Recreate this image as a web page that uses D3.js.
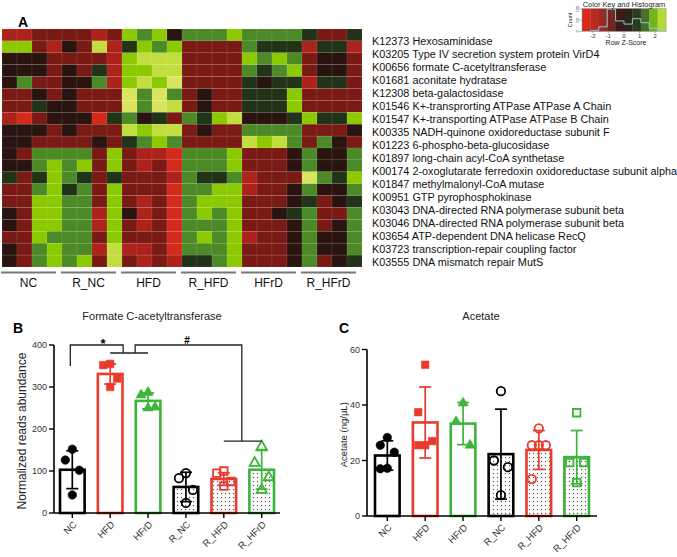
<!DOCTYPE html>
<html><head><meta charset="utf-8">
<script src="https://cdn.jsdelivr.net/npm/d3@7"></script>
<style>body{margin:0;background:#fff}svg{display:block;font-family:"Liberation Sans",Arial,sans-serif}</style>
</head><body>
<svg id="c" width="677" height="557"></svg>
<script>
// ---------------- DATA ----------------
const heatGroups = ["NC","R_NC","HFD","R_HFD","HFrD","R_HFrD"];
const samplesPerGroup = 4;
const geneLabels = [
 "K12373 Hexosaminidase",
 "K03205 Type IV secretion system protein VirD4",
 "K00656 formate C-acetyltransferase",
 "K01681 aconitate hydratase",
 "K12308 beta-galactosidase",
 "K01546 K+-transprorting ATPase ATPase A Chain",
 "K01547 K+-transporting ATPase ATPase B Chain",
 "K00335 NADH-quinone oxidoreductase subunit F",
 "K01223 6-phospho-beta-glucosidase",
 "K01897 long-chain acyl-CoA synthetase",
 "K00174 2-oxoglutarate ferredoxin oxidoreductase subunit alpha",
 "K01847 methylmalonyl-CoA mutase",
 "K00951 GTP pyrophosphokinase",
 "K03043 DNA-directed RNA polymerase subunit beta",
 "K03046 DNA-directed RNA polymerase subunit beta",
 "K03654 ATP-dependent DNA helicase RecQ",
 "K03723 transcription-repair coupling factor",
 "K03555 DNA mismatch repair MutS"
];
// row z-scores (20 rows x 24 samples)
const zScores = [
 [-1.7,-1.7,-1.1,-1.1,-1.1,-1.1,-1.7,-1.1, 1.4,0.9,1.4,-0.4, 0.9,0.9,0.9,1.4, 0.9,0.9,0.9,0.9, 0.3,-1.1,-1.1,0.3],
 [1.4,1.4,-1.1,-1.7,-0.4,-1.1,1.8,-1.7, 0.3,1.4,0.9,1.4, -1.1,-1.1,-1.1,-1.1, 0.9,0.3,0.3,0.3, -1.7,0.3,0.3,-1.7],
 [-0.4,-0.4,-0.4,-1.1,-1.1,-1.1,-1.1,-1.7, 1.4,1.8,1.8,1.8, -1.1,-1.1,-1.1,-1.1, 1.4,0.9,1.4,0.9, -1.1,-0.4,-0.4,-1.1],
 [-0.4,-0.4,-0.4,-1.1,-0.4,-1.1,0.3,-1.7, 1.4,1.4,1.8,1.8, -1.1,-1.1,-1.1,-1.1, 0.9,0.3,0.9,1.4, -1.1,-0.4,-0.4,-1.1],
 [-0.4,0.9,-1.1,-1.1,-0.4,-0.4,0.9,-1.7, 1.4,1.8,1.4,2.3, -1.1,-1.1,-1.1,-1.1, 0.3,-0.4,0.3,0.3, -1.7,0.3,0.3,-1.1],
 [-1.1,-1.1,-0.4,-1.1,-0.4,-1.1,-1.1,-1.1, 2.3,0.9,2.3,0.9, -1.1,-0.4,-1.1,-1.1, 0.3,0.3,0.3,1.4, -1.1,-1.1,-1.1,-1.1],
 [-1.1,-1.1,0.3,-0.4,-0.4,-1.1,-1.1,-1.1, 2.3,0.9,2.3,1.8, -1.1,-0.4,-1.1,-1.1, 0.3,0.3,0.3,1.4, -1.1,-1.1,-1.1,-1.1],
 [-1.7,-2.2,-1.1,-0.4,-0.4,-0.4,-2.2,0.3, 0.9,-0.4,0.3,-1.1, 0.9,0.3,1.4,1.8, -0.4,-0.4,-0.4,0.3, 1.4,0.3,0.3,1.4],
 [-0.4,-0.4,-0.4,-1.1,-0.4,-1.1,-1.1,-1.1, 1.8,1.4,1.8,1.8, -1.1,-0.4,-1.1,-1.1, 0.9,0.9,0.9,0.9, -1.1,-1.1,-1.1,-0.4],
 [-0.4,-0.4,-1.1,-1.1,-1.1,-1.1,-0.4,-1.1, 0.3,0.9,1.4,0.9, -1.1,-1.1,-1.1,-1.1, 1.8,1.4,1.8,0.9, -1.1,0.9,-0.4,-1.1],
 [-0.4,-1.1,0.9,0.9,0.9,0.9,-1.1,1.4, -1.1,-1.7,-1.7,-2.2, 0.9,0.9,0.9,1.4, -1.1,-1.1,-1.1,-0.4, 0.9,-0.4,-0.4,0.9],
 [-0.4,-0.4,0.9,1.4,0.9,1.4,-1.1,1.4, -1.1,-1.7,-1.1,-2.2, 0.9,0.9,0.9,1.4, -1.1,-1.1,-1.1,-0.4, 0.9,-0.4,-0.4,0.9],
 [0.3,-1.1,0.3,1.4,0.9,0.3,-1.1,0.3, -1.1,-1.1,-1.1,-1.7, 0.9,0.3,0.3,0.9, -1.7,-1.1,-1.1,-1.1, 2.3,0.9,0.3,1.4],
 [-1.1,-1.1,0.9,1.4,0.3,0.9,-1.1,1.4, -1.1,-1.1,-1.1,-2.2, 0.9,0.9,1.4,1.4, -1.7,-1.1,-1.1,-0.4, 0.9,-0.4,-0.4,0.9],
 [-1.1,-1.1,1.4,1.4,0.9,0.9,-1.1,1.4, -1.1,-1.7,-1.1,-2.2, 0.9,1.4,1.4,1.4, -1.1,-1.1,-1.1,-0.4, 0.3,-1.1,-0.4,0.3],
 [-0.4,-1.1,1.4,1.4,0.9,0.9,-1.7,1.4, -0.4,-1.7,-1.1,-2.2, 0.9,1.4,0.9,1.4, -1.1,-1.1,-0.4,0.3, 0.9,-1.1,-1.1,0.9],
 [-0.4,-1.1,1.4,1.4,0.9,0.9,-1.7,1.4, -1.1,-1.7,-1.1,-2.2, 0.9,0.9,0.9,1.4, -1.1,-1.1,-1.1,-0.4, 0.9,-1.1,-0.4,0.9],
 [-1.1,-1.1,1.4,0.9,0.9,0.9,-1.1,1.4, -1.1,-1.1,-1.1,-2.2, 0.9,1.4,0.9,1.4, -1.7,-1.1,-1.1,-0.4, 0.9,-0.4,-0.4,0.9],
 [-0.4,-1.1,0.9,1.4,0.9,0.9,-1.7,1.8, -1.7,-1.7,-1.1,-2.2, 0.9,0.9,0.9,1.4, -1.1,-1.1,-1.1,-0.4, 0.9,-0.4,-0.4,0.9],
 [-0.4,-1.1,0.9,1.4,0.9,1.4,-1.1,1.8, -1.1,-1.7,-1.1,-1.7, 0.3,0.3,0.9,1.4, -1.1,-1.1,-1.1,-0.4, 0.9,-1.1,-0.4,0.3]
];
const zBreaks = [-2,-1.4,-0.8,0,0.6,1.2,1.6,2.05];
const zColors = ["#d42a1c","#ae221c","#7a1a14","#2a1410","#223418","#4c8a28","#8dc900","#c2dd3e","#dbe45e"];
const keyColors = ["#d8291c","#bb2a22","#992a26","#742622","#3c1a16","#2c2418","#2e3a20","#4a6e2c","#72b41a","#b8d838"];
const histCounts = [0,0.05,0.21,1.0,0.47,0.33,0.57,0.39,0.14,0.05];
const keyTicks = [-2,-1,0,1,2];

const barGroups = ["NC","HFD","HFrD","R_NC","R_HFD","R_HFrD"];
const formateMean = [103,331,267,62,81,103];
const formateSD = [45,24,19,35,15,46];
const formatePoints = [[152,126,102,43],[355,352,320,300],[287,281,252,250],[95,83,55,24],[100,95,75,64],[158,119,85,55]];
const formateTicks = [0,100,200,300,400];
const acetateMean = [21.8,33.7,33.3,22.3,23.8,21.2];
const acetateSD = [5.3,12.8,7.6,16.2,7.0,9.6];
const acetatePoints = [[28.3,25.5,23,17.2,17],[54.5,37.4,27,25.5,25.5],[40.7,34,25.5],[45,20,17.6,7.5],[31.6,25.5,25.5,25.5,13.3],[37.2,19.2,19.2,12]];
const acetateTicks = [0,20,40,60];

// ---------------- DRAW ----------------
const svg = d3.select("#c");
const RED = "#ea3a2e", GREEN = "#3db43a", BLACK = "#000";
const groupColor = {NC:BLACK,HFD:RED,HFrD:GREEN,R_NC:BLACK,R_HFD:RED,R_HFrD:GREEN};

const defs = svg.append("defs");
const pat = defs.append("pattern").attr("id","dots").attr("width",4).attr("height",4).attr("patternUnits","userSpaceOnUse");
pat.append("rect").attr("width",4).attr("height",4).attr("fill","#fff");
pat.append("circle").attr("cx",1.5).attr("cy",1.5).attr("r",0.65).attr("fill","#555");

// Panel A heatmap
const nCols = heatGroups.length*samplesPerGroup;
const hx = d3.scaleBand().domain(d3.range(nCols)).range([2,362]);
const hy = d3.scaleBand().domain(d3.range(zScores.length)).range([29,267]);
const zColor = d3.scaleThreshold().domain(zBreaks).range(zColors);
const cells = [];
zScores.forEach((row,r)=>row.forEach((v,c)=>cells.push({r,c,v})));
svg.append("g").selectAll("rect").data(cells).join("rect")
  .attr("x",d=>hx(d.c)).attr("y",d=>hy(d.r))
  .attr("width",hx.bandwidth()).attr("height",hy.bandwidth())
  .attr("fill",d=>zColor(d.v))
  .attr("stroke","rgba(255,255,255,0.13)").attr("stroke-width",0.6);

const gy = d3.scalePoint().domain(geneLabels).range([40.7,261.7]);
svg.append("g").selectAll("text").data(geneLabels).join("text")
  .attr("x",372).attr("y",d=>gy(d)).attr("dy","0.36em")
  .attr("font-size",10.85).attr("fill","#111").text(d=>d);

const gx = d3.scaleBand().domain(heatGroups).range([2,362]);
const gG = svg.append("g");
gG.selectAll("line").data(heatGroups).join("line")
  .attr("x1",d=>gx(d)-1).attr("x2",d=>gx(d)+gx.bandwidth()-6)
  .attr("y1",272.5).attr("y2",272.5).attr("stroke","#777").attr("stroke-width",1.8);
gG.selectAll("text").data(heatGroups).join("text")
  .attr("x",d=>gx(d)+gx.bandwidth()/2-3.5).attr("y",287)
  .attr("text-anchor","middle").attr("font-size",12).attr("fill","#111").text(d=>d);

svg.append("text").attr("x",18).attr("y",27).attr("font-size",14).attr("font-weight","bold").text("A");

// Color key
const kx = d3.scaleLinear().domain([-2.7,2.7]).range([582,666]);
const ky = d3.scaleLinear().domain([0,1]).range([31.5,9]);
const binW = 5.4/keyColors.length;
const key = svg.append("g");
key.selectAll("rect").data(keyColors).join("rect")
  .attr("x",(d,i)=>kx(-2.7+i*binW)).attr("y",8.5)
  .attr("width",kx(binW)-kx(0)+0.3).attr("height",23)
  .attr("fill",d=>d);
key.append("rect").attr("x",582).attr("y",8.5).attr("width",84).attr("height",23)
  .attr("fill","none").attr("stroke","#999").attr("stroke-width",0.5);
const stepPts = histCounts.map((c,i)=>[-2.7+i*binW,c]).concat([[2.7,histCounts[histCounts.length-1]]]);
key.append("path").attr("d",d3.line().x(d=>kx(d[0])).y(d=>ky(d[1])).curve(d3.curveStepAfter)(stepPts))
  .attr("fill","none").attr("stroke","#8fc6d4").attr("stroke-width",1);
key.selectAll(".kt").data(keyTicks).join("text").attr("class","kt")
  .attr("x",d=>kx(d)).attr("y",37.5).attr("text-anchor","middle").attr("font-size",6).attr("fill","#333").text(d=>d);
key.selectAll(".ktl").data(keyTicks).join("line").attr("class","ktl")
  .attr("x1",d=>kx(d)).attr("x2",d=>kx(d)).attr("y1",31.5).attr("y2",33).attr("stroke","#555").attr("stroke-width",0.5);
key.append("text").attr("x",624).attr("y",7).attr("text-anchor","middle").attr("font-size",7.4).attr("fill","#222").text("Color Key and Histogram");
key.append("text").attr("x",626).attr("y",45).attr("text-anchor","middle").attr("font-size",7).attr("fill","#222").text("Row Z-Score");
key.append("text").attr("transform","translate(572,20) rotate(-90)").attr("text-anchor","middle").attr("font-size",5.5).attr("fill","#222").text("Count");
[[0,"0"],[0.5,"50"],[1,"100"]].forEach(([v,l])=>{
  key.append("text").attr("transform",`translate(579,${ky(v)}) rotate(-90)`).attr("text-anchor","middle").attr("font-size",4).attr("fill","#333").text(l);
  key.append("line").attr("x1",580).attr("x2",582).attr("y1",ky(v)).attr("y2",ky(v)).attr("stroke","#555").attr("stroke-width",0.4);
});

// Bar panels
const jitterPattern = [0,-1,1,0,-1,1];
function shapePath(shape,size){
  const s=size;
  if(shape==="circle") return d3.symbol(d3.symbolCircle, s*s*0.78)();
  if(shape==="square") return d3.symbol(d3.symbolSquare, s*s)();
  return d3.symbol(d3.symbolTriangle, s*s*0.62)();
}
function barPanel(o){
  const g = svg.append("g");
  const x = d3.scaleBand().domain(barGroups).range(o.xRange).paddingInner(0.35).paddingOuter(0);
  const y = d3.scaleLinear().domain(o.yDomain).range(o.yRange);
  barGroups.forEach((grp,i)=>{
    const col = groupColor[grp];
    g.append("rect").attr("x",x(grp)).attr("y",y(o.mean[i]))
      .attr("width",x.bandwidth()).attr("height",y(0)-y(o.mean[i]))
      .attr("fill",grp.startsWith("R_")?"url(#dots)":"#fff")
      .attr("stroke",col).attr("stroke-width",2.6);
  });
  barGroups.forEach((grp,i)=>{
    const col = groupColor[grp], cx = x(grp)+x.bandwidth()/2;
    const lo = y(Math.max(0,o.mean[i]-o.sd[i])), hi = y(o.mean[i]+o.sd[i]);
    g.append("line").attr("x1",cx).attr("x2",cx).attr("y1",lo).attr("y2",hi).attr("stroke",col).attr("stroke-width",1.7);
    [lo,hi].forEach(yy=>g.append("line").attr("x1",cx-6).attr("x2",cx+6).attr("y1",yy).attr("y2",yy).attr("stroke",col).attr("stroke-width",1.7));
  });
  barGroups.forEach((grp,i)=>{
    const col = groupColor[grp], cx = x(grp)+x.bandwidth()/2;
    const open = grp.startsWith("R_");
    o.points[i].forEach((v,j)=>{
      g.append("path").attr("d",shapePath(o.shapes[i],o.shapes[i]==="square"?7.5:8.5))
        .attr("transform",`translate(${cx+jitterPattern[j]*7},${y(v)})`)
        .attr("fill",open?"#fff":col).attr("fill-opacity",open?0:1)
        .attr("stroke",col).attr("stroke-width",open?1.8:0.6);
    });
  });
  const x0=o.xAxis[0], x1=o.xAxis[1];
  g.append("line").attr("x1",x0).attr("x2",x1).attr("y1",y(0)).attr("y2",y(0)).attr("stroke","#000").attr("stroke-width",1.6);
  g.append("line").attr("x1",x0).attr("x2",x0).attr("y1",y(0)).attr("y2",y(o.yDomain[1])).attr("stroke","#000").attr("stroke-width",1.6);
  o.ticks.forEach(t=>{
    g.append("line").attr("x1",x0-5).attr("x2",x0).attr("y1",y(t)).attr("y2",y(t)).attr("stroke","#000").attr("stroke-width",1.4);
    g.append("text").attr("x",x0-7).attr("y",y(t)).attr("dy","0.35em").attr("text-anchor","end").attr("font-size",9).attr("fill","#333").text(t);
  });
  barGroups.forEach(grp=>{
    const cx = x(grp)+x.bandwidth()/2;
    g.append("line").attr("x1",cx).attr("x2",cx).attr("y1",y(0)).attr("y2",y(0)+5).attr("stroke","#000").attr("stroke-width",1.4);
    g.append("text").attr("transform",`translate(${cx+3},${y(0)+10}) rotate(-45)`)
      .attr("text-anchor","end").attr("dy","0.3em").attr("font-size",9.5).attr("fill","#333").text(grp);
  });
  g.append("text").attr("transform",`translate(${o.yLabelX},${(y(0)+y(o.yDomain[1]))/2+2}) rotate(-90)`)
    .attr("text-anchor","middle").attr("font-size",o.yLabelSize).attr("fill","#222").text(o.yLabel);
  g.append("text").attr("x",o.titleX).attr("y",320).attr("text-anchor","middle").attr("font-size",11).attr("fill","#222").text(o.title);
  g.append("text").attr("x",o.letterX).attr("y",333).attr("font-size",14).attr("font-weight","bold").text(o.letter);
  return {x,y,g};
}

const B = barPanel({xRange:[60,274],xAxis:[54,280],yDomain:[0,400],yRange:[513,345],
  mean:formateMean,sd:formateSD,points:formatePoints,ticks:formateTicks,
  shapes:["circle","square","triangle","circle","square","triangle"],
  yLabel:"Normalized reads abundance",yLabelX:26,yLabelSize:12,
  title:"Formate C-acetyltransferase",titleX:152,letter:"B",letterX:13});

const C = barPanel({xRange:[375,589],xAxis:[367,597],yDomain:[0,60],yRange:[516,349.5],
  mean:acetateMean,sd:acetateSD,points:acetatePoints,ticks:acetateTicks,
  shapes:["circle","square","triangle","circle","circle","square"],
  yLabel:"Acetate (ng/\u00b5L)",yLabelX:347,yLabelSize:9.5,
  title:"Acetate",titleX:481,letter:"C",letterX:339});

// significance brackets in B
(function(){
  const {x,y,g} = B;
  const cx = k=>x(k)+x.bandwidth()/2;
  const top = y(400), mid = y(381);
  const midHH = (cx("HFD")+cx("HFrD"))/2;
  const path = d3.path();
  path.moveTo(cx("NC")-2, y(350)); path.lineTo(cx("NC")-2, top); path.lineTo(midHH-6, top); path.lineTo(midHH-6, mid);
  path.moveTo(cx("HFD"), mid); path.lineTo(cx("HFrD"), mid);
  path.moveTo(midHH+6, mid); path.lineTo(midHH+6, top); path.lineTo(cx("R_HFD")+18, top); path.lineTo(cx("R_HFD")+18, y(171));
  path.moveTo(cx("R_HFD"), y(171)); path.lineTo(cx("R_HFrD"), y(171));
  g.append("path").attr("d",path.toString()).attr("fill","none").attr("stroke","#222").attr("stroke-width",1.3);
  g.append("text").attr("x",103).attr("y",348).attr("text-anchor","middle").attr("font-size",13).attr("font-weight","bold").text("*");
  g.append("text").attr("x",187).attr("y",344).attr("text-anchor","middle").attr("font-size",10).attr("font-weight","bold").text("#");
})();
</script>
</body></html>
